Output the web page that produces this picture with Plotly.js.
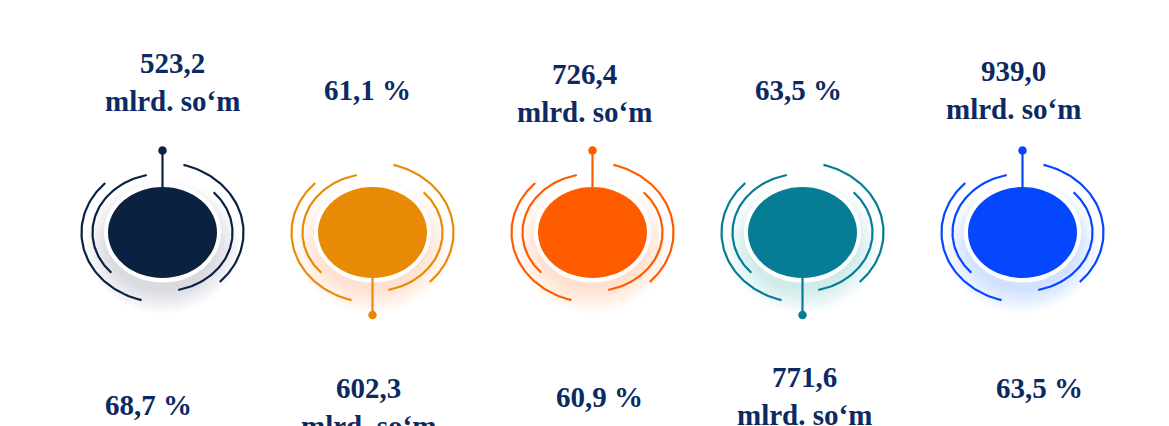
<!DOCTYPE html>
<html>
<head>
<meta charset="utf-8">
<script src="https://cdn.plot.ly/plotly-3.0.1.min.js"></script>
<style>html,body{margin:0;padding:0;background:#fff;}#chart{width:1169px;height:426px;}</style>
</head>
<body>
<div id="chart"></div>
<script>
// ---- data ----
var topValues = ["523,2", "61,1", "726,4", "63,5", "939,0"];
var topUnits = ["mlrd. so‘m", "%", "mlrd. so‘m", "%", "mlrd. so‘m"];
var bottomValues = ["68,7", "602,3", "60,9", "771,6", "63,5"];
var bottomUnits = ["%", "mlrd. so‘m", "%", "mlrd. so‘m", "%"];
var iconColors = ["#0a2240", "#e88a06", "#ff5c00", "#067c95", "#0546ff"];
var shadowColors = ["#8c96ab", "#f5b56a", "#ff9d66", "#7fb9c8", "#7d9cff"];
var pinSide = ["top", "bottom", "top", "bottom", "top"];

// ---- layout geometry (pixel space) ----
var iconX = [162.5, 372.5, 592.5, 802.5, 1022.5];
var iconY = 232.5;
var topTextX = [172, 367, 584, 798, 1013];
var topTextY = [82, 90, 92.5, 90, 89.5];
var botTextX = [148, 368, 599, 804, 1039];
var botTextY = [405, 407, 397, 396, 388];

function fmt(v, u) {
  return u === "%" ? v + " %" : v + "<br>" + u;
}

var arcs = [
  [81, 70, -45, 75], [81, 70, 135, 255],
  [70, 59, -77, 44], [70, 59, 103, 224]
];

var traces = [];
var shapes = [];
var annotations = [];
var textFont = {family: "Liberation Serif, Times New Roman, serif", size: 29, color: "#0c2a62", weight: "bold"};

for (var i = 0; i < iconX.length; i++) {
  var cx = iconX[i], cy = iconY;
  // shadow layers
  for (var k = 9; k >= 0; k--) {
    var rx = 54 + k * 2.5, ry = 44 + k * 2.5;
    shapes.push({type: "circle", xref: "x", yref: "y", x0: cx - rx, x1: cx + rx,
      y0: cy + 14 - ry, y1: cy + 14 + ry, fillcolor: shadowColors[i], opacity: 0.035,
      line: {width: 0}, layer: "below"});
  }
  // white ring
  shapes.push({type: "circle", xref: "x", yref: "y", x0: cx - 58.5, x1: cx + 58.5,
    y0: cy - 50, y1: cy + 50, fillcolor: "#ffffff", line: {width: 0}, layer: "below"});
  // colored ellipse
  shapes.push({type: "circle", xref: "x", yref: "y", x0: cx - 54.5, x1: cx + 54.5,
    y0: cy - 45.5, y1: cy + 45.5, fillcolor: iconColors[i], line: {width: 0}, layer: "below"});

  // arcs
  var ax = [], ay = [];
  arcs.forEach(function (a) {
    for (var t = a[2]; t <= a[3] + 0.01; t += 2) {
      var r = t * Math.PI / 180;
      ax.push(cx + a[0] * Math.cos(r));
      ay.push(cy - a[1] * Math.sin(r));
    }
    ax.push(null); ay.push(null);
  });
  // pin line
  if (pinSide[i] === "top") { ax.push(cx, cx); ay.push(cy - 45.5, 150.5); }
  else { ax.push(cx, cx); ay.push(cy + 45.5, 315); }
  traces.push({x: ax, y: ay, mode: "lines", line: {color: iconColors[i], width: 2.2},
    hoverinfo: "skip", showlegend: false});
  // pin dot
  traces.push({x: [cx], y: [pinSide[i] === "top" ? 150.5 : 315], mode: "markers",
    marker: {color: iconColors[i], size: 8.5}, hoverinfo: "skip", showlegend: false});

  annotations.push({x: topTextX[i], y: topTextY[i], xref: "x", yref: "y",
    text: fmt(topValues[i], topUnits[i]), showarrow: false, xanchor: "center", yanchor: "middle",
    font: textFont});
  annotations.push({x: botTextX[i], y: botTextY[i], xref: "x", yref: "y",
    text: fmt(bottomValues[i], bottomUnits[i]), showarrow: false, xanchor: "center", yanchor: "middle",
    font: textFont});
}

var layout = {
  width: 1169, height: 426,
  margin: {l: 0, r: 0, t: 0, b: 0},
  paper_bgcolor: "#ffffff", plot_bgcolor: "#ffffff",
  xaxis: {range: [0, 1169], visible: false, fixedrange: true},
  yaxis: {range: [426, 0], visible: false, fixedrange: true},
  shapes: shapes,
  annotations: annotations,
  showlegend: false
};

Plotly.newPlot("chart", traces, layout, {displayModeBar: false, staticPlot: true});
</script>
</body>
</html>
